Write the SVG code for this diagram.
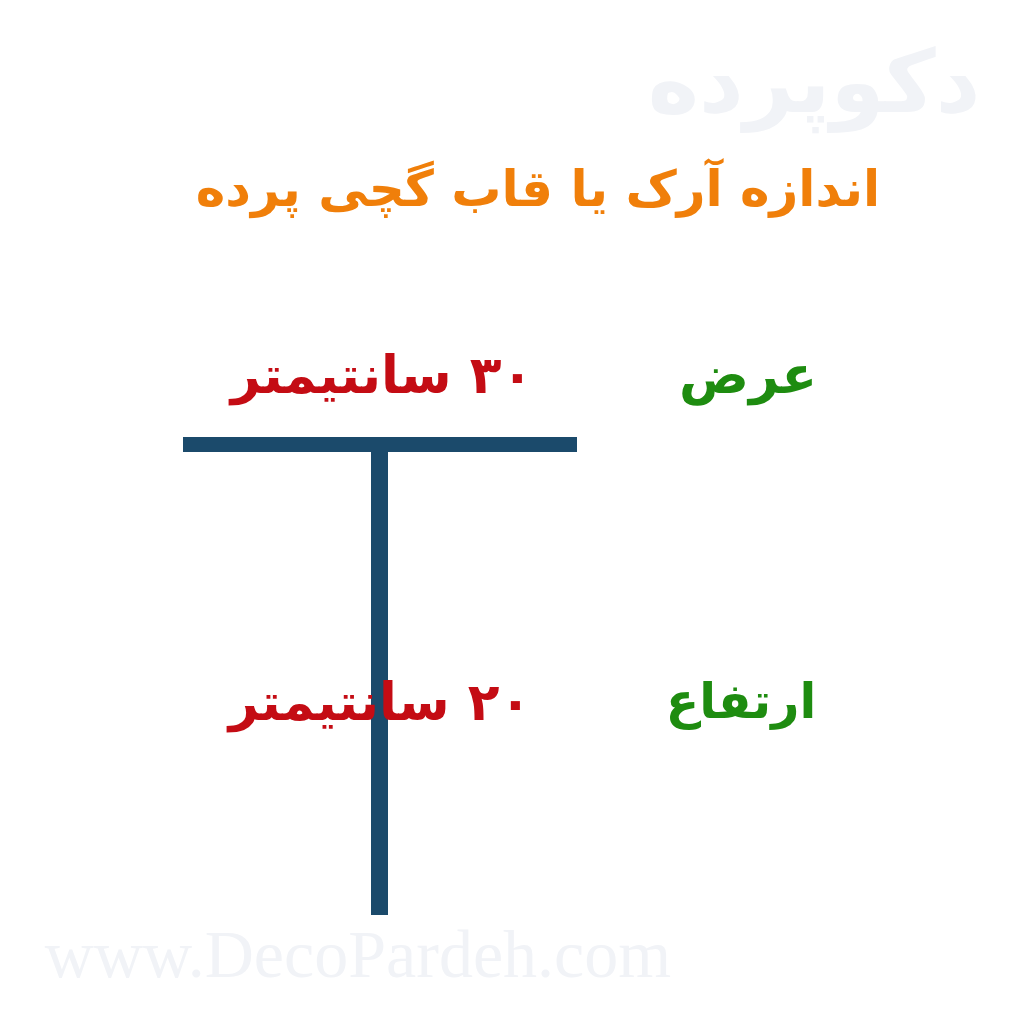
<svg xmlns="http://www.w3.org/2000/svg" width="1024" height="1024" viewBox="0 0 1024 1024">
<style>
.fa{font-family:"DejaVu Sans","Noto Sans",sans-serif;font-weight:bold;text-anchor:middle;direction:rtl}
.title{fill:#F07F0A;font-size:50px}
.val{fill:#C40C14;font-size:52px}
.lbl{fill:#1E8C10;font-size:52px}
.wm{fill:#F1F3F7}
.bar{fill:#1B4A6B}
</style>
<rect width="1024" height="1024" fill="#FFFFFF"/>
<text class="fa wm" x="814" y="112" style="font-size:87px">دکوپرده</text>
<text class="wm" x="358" y="977" style="font-size:68px;font-family:'Liberation Serif',serif;text-anchor:middle">www.DecoPardeh.com</text>
<g id="title"><text class="fa title" x="538" y="206">اندازه آرک یا قاب گچی پرده</text></g>
<g id="connectors">
<rect class="bar" x="183" y="437" width="394" height="15"/>
<rect class="bar" x="371" y="452" width="17" height="463"/>
</g>
<g id="width-label"><text class="fa lbl" x="748" y="393">عرض</text></g>
<g id="width-value"><text class="fa val" x="382" y="393">۳۰ سانتیمتر</text></g>
<g id="height-label"><text class="fa lbl" x="741" y="718" style="font-size:49px">ارتفاع</text></g>
<g id="height-value"><text class="fa val" x="380" y="720">۲۰ سانتیمتر</text></g>
</svg>
